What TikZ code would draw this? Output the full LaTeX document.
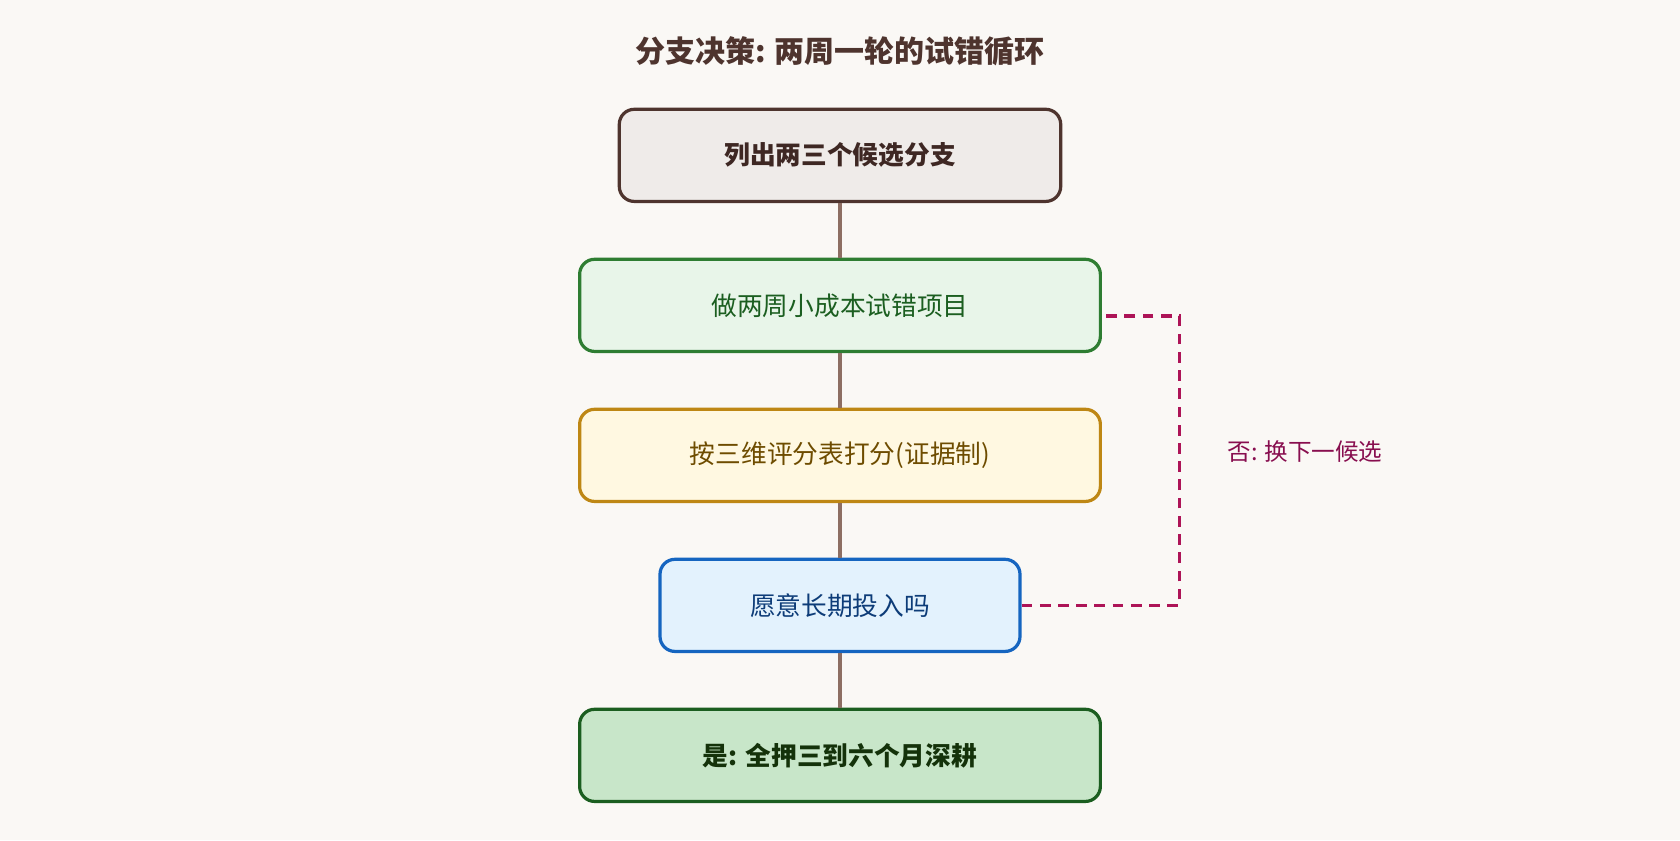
\documentclass[tikz,border=0pt]{standalone}
\usepackage{fontspec}
\setmainfont{Noto Sans CJK SC}
\begin{document}
\begin{tikzpicture}[x=1pt,y=-1pt,
 box/.style={rounded corners=14pt,line width=3pt,minimum height=86pt,font=\fontsize{24}{28}\selectfont,inner sep=0pt},
 link/.style={draw=brown!50!gray,line width=4pt,color={rgb,255:red,141;green,110;blue,99}},
 loop/.style={line width=3pt,dash pattern=on 10pt off 7pt,color={rgb,255:red,173;green,20;blue,87}}]
\definecolor{bg}{RGB}{250,248,245}
\fill[bg] (0,0) rectangle (1568,784);
\useasboundingbox (0,0) rectangle (1568,784);
\node (title) at (784,48) {\fontsize{28}{32}\selectfont\bfseries\color[RGB]{78,52,46}分支决策: 两周一轮的试错循环};
\node[box,minimum width=412pt,draw={rgb,255:red,78;green,52;blue,46},fill={rgb,255:red,239;green,235;blue,233},text={rgb,255:red,62;green,39;blue,35},font=\fontsize{24}{28}\selectfont\bfseries] (b1) at (784,145) {列出两三个候选分支};
\node[box,minimum width=486pt,draw={rgb,255:red,46;green,125;blue,50},fill={rgb,255:red,232;green,245;blue,233},text={rgb,255:red,27;green,94;blue,32}] (b2) at (784,285) {做两周小成本试错项目};
\node[box,minimum width=486pt,draw={rgb,255:red,190;green,135;blue,20},fill={rgb,255:red,255;green,248;blue,225},text={rgb,255:red,110;green,76;blue,0}] (b3) at (784,425) {按三维评分表打分(证据制)};
\node[box,minimum width=336pt,draw={rgb,255:red,21;green,101;blue,192},fill={rgb,255:red,227;green,242;blue,253},text={rgb,255:red,13;green,60;blue,120}] (b4) at (784,565) {愿意长期投入吗};
\node[box,minimum width=486pt,draw={rgb,255:red,27;green,94;blue,32},fill={rgb,255:red,200;green,230;blue,201},text={rgb,255:red,20;green,50;blue,10},font=\fontsize{24}{28}\selectfont\bfseries] (b5) at (784,705) {是: 全押三到六个月深耕};
\draw[link] (b1) -- (b2);
\draw[link] (b2) -- (b3);
\draw[link] (b3) -- (b4);
\draw[link] (b4) -- (b5);
\coordinate (c1) at (1101,565);
\coordinate (c2) at (1101,295);
\draw[loop] (b4.east) -- (c1) -- (c2) -- (b2.east |- c2);
\node[font=\fontsize{22}{26}\selectfont,text={rgb,255:red,136;green,14;blue,79}] (lab) at (1218,421) {否: 换下一候选};
\end{tikzpicture}
\end{document}
